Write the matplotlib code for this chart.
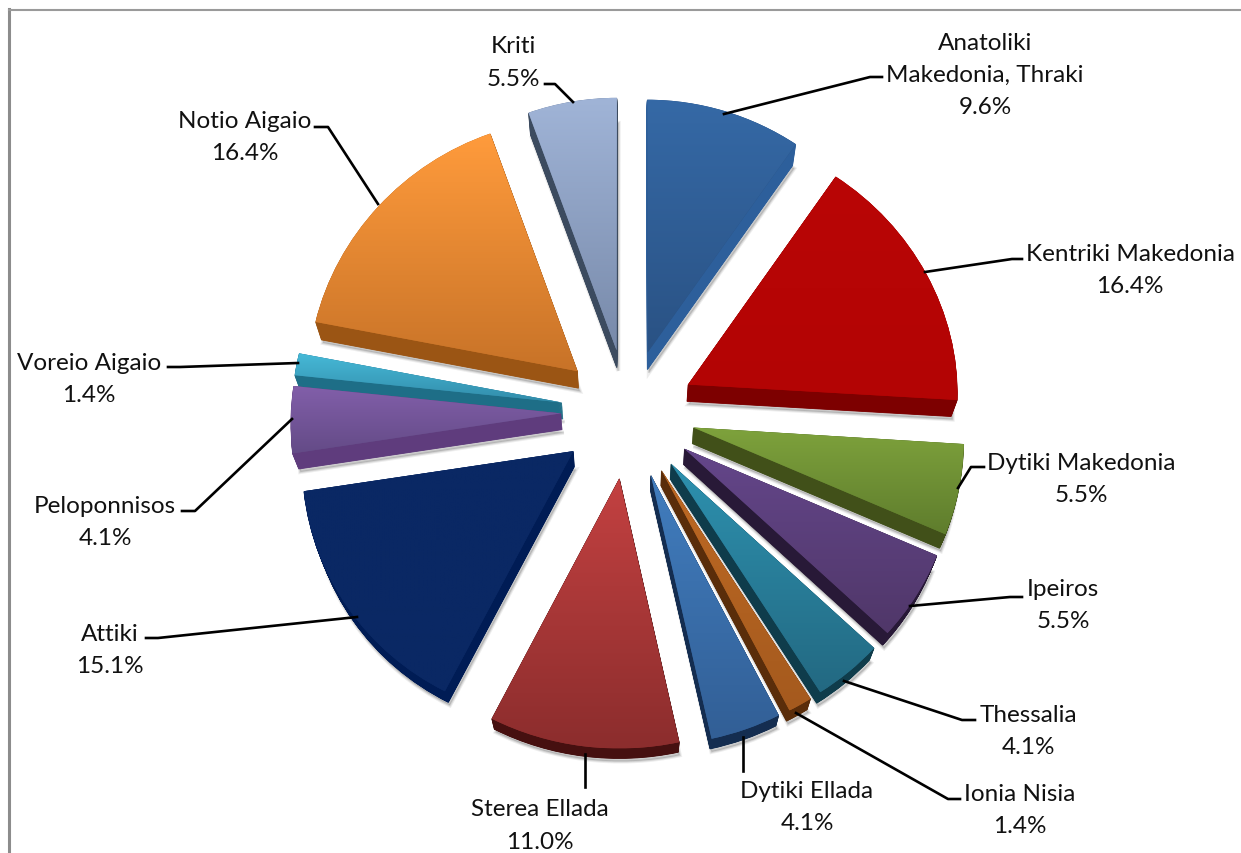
import numpy as np
import matplotlib
matplotlib.use('Agg')
import matplotlib.pyplot as plt
from matplotlib.patches import Polygon

plt.rcParams['font.family'] = ['Lato', 'DejaVu Sans']

regions = ['Anatoliki\nMakedonia, Thraki', 'Kentriki Makedonia', 'Dytiki Makedonia', 'Ipeiros',
           'Thessalia', 'Ionia Nisia', 'Dytiki Ellada', 'Sterea Ellada', 'Attiki',
           'Peloponnisos', 'Voreio Aigaio', 'Notio Aigaio', 'Kriti']
shares = [9.6, 16.4, 5.5, 5.5, 4.1, 1.4, 4.1, 11.0, 15.1, 4.1, 1.4, 16.4, 5.5]

# gradient top, gradient bottom, side wall
top_colors = ['#3569a6', '#b90606', '#7ea23c', '#64468a', '#2d91af', '#be6923', '#417dbe',
              '#c34141', '#0a2864', '#825fAA', '#46b9d7', '#ff9b3c', '#a0b4d7']
bottom_colors = ['#2a5284', '#b30404', '#5f7d2d', '#503769', '#236982', '#a55a1e', '#325f96',
                 '#8c2d2d', '#0a2864', '#644b87', '#328caa', '#c87328', '#788aaa']
wall_colors = ['#2d5f9b', '#7d0000', '#415019', '#281937', '#0f3c4b', '#5a2d0a', '#142d50',
               '#461010', '#001c55', '#5f3c7d', '#1e6e87', '#9b5514', '#3c4b5f']

# label centres and leader lines, in image pixels
label_pos = [(985, 75.5), (1130, 270.5), (1081, 479.5), (1063, 605.5), (1028, 731.5), (1020, 810.5),
             (807, 807.5), (540, 826), (110, 650.5), (105, 522.5), (89, 379.5), (245, 137.5), (513, 63)]
leaders = [[(724, 115), (870, 78), (882, 78)],
           [(925, 273), (1012, 260), (1022, 260)],
           [(958, 489), (971, 468), (984, 468)],
           [(910, 607), (1010, 598), (1022, 598)],
           [(844, 682), (962, 721), (975, 721)],
           [(796, 714), (948, 800), (960, 800)],
           [(743, 738), (743, 772)],
           [(585, 755), (585, 788)],
           [(357, 618), (158, 639), (146, 639)],
           [(292, 420), (195, 512), (182, 512)],
           [(298, 364), (180, 368), (168, 368)],
           [(378, 205), (328, 128), (315, 128)],
           [(573, 103), (555, 85), (545, 85)]]

center_x, center_y = 628, 413
radius = 270
gap = 67          # every slice is pulled out by the same amount
top_squash = 0.935   # far half of the pie looks flatter
narrowing = 1.1e-4   # and narrower, the near half wider
vanish = np.array([628., 1280.])  # side walls run towards this point
depth = 0.0188


def to_screen(xy):
    out = np.array(xy, dtype=float)
    up = out[:, 1] > 0
    rise = out[:, 1] * np.where(up, top_squash, 1.0)
    out[:, 0] = center_x + out[:, 0] * (1 - narrowing * rise)
    out[:, 1] = center_y - rise
    return out


def hex_rgb(c):
    return np.array(matplotlib.colors.to_rgb(c))


fig = plt.figure(figsize=(12.41, 8.54), dpi=100)
ax = fig.add_axes([0, 0, 1, 1])

wedges, _ = ax.pie(shares, explode=[gap] * len(shares), radius=radius, startangle=90,
                   counterclock=False, frame=False)

outlines = []
for w in wedges:
    w.set_visible(False)
    outlines.append(to_screen(w.get_path().to_polygons()[0]))

# far slices first so the near ones sit on top
order = np.argsort([p[:, 1].mean() for p in outlines])
for rank, i in enumerate(order):
    pts = outlines[i]
    z = 10 + rank * 3
    base = pts + (vanish - pts) * depth

    for grow, alpha in ((3, 0.10), (1.5, 0.16)):
        ax.add_patch(Polygon(base + [1.5, 3], closed=True, fc='#555555', ec='#555555', lw=grow,
                             alpha=alpha, zorder=z))

    for s in np.linspace(1, 0, 30)[:-1]:
        ax.add_patch(Polygon(pts + (vanish - pts) * depth * s, closed=True, fc=wall_colors[i],
                             ec=wall_colors[i], lw=0.6, zorder=z + 1))

    face = Polygon(pts, closed=True, fc=bottom_colors[i], ec='none', zorder=z + 2)
    ax.add_patch(face)
    ramp = np.linspace(0, 1, 64)[:, None, None]
    grad = hex_rgb(top_colors[i]) * (1 - ramp) + hex_rgb(bottom_colors[i]) * ramp
    im = ax.imshow(grad, extent=(pts[:, 0].min(), pts[:, 0].max(), pts[:, 1].max(), pts[:, 1].min()),
                   origin='upper', aspect='auto', interpolation='bilinear', zorder=z + 2.5)
    im.set_clip_path(face)

for line in leaders:
    xs, ys = zip(*line)
    ax.plot(xs, ys, color='black', lw=1.9, solid_joinstyle='round', zorder=100)

for name, share, (x, y) in zip(regions, shares, label_pos):
    ax.text(x, y, '{}\n{:.1f}%'.format(name, share), ha='center', va='center', fontsize=17.5,
            color='#111111', linespacing=1.66, zorder=101, clip_on=False)

# edge of the chart area
ax.plot([9, 9], [854, 10], color='#8c8c8c', lw=2.2, zorder=1)
ax.plot([9, 1241], [11, 11], color='#9a9a9a', lw=1.5, zorder=1)

ax.set_aspect('auto')
ax.set_xlim(0, 1241)
ax.set_ylim(854, 0)
ax.axis('off')
fig.savefig('out.png', dpi=100, facecolor='white')
